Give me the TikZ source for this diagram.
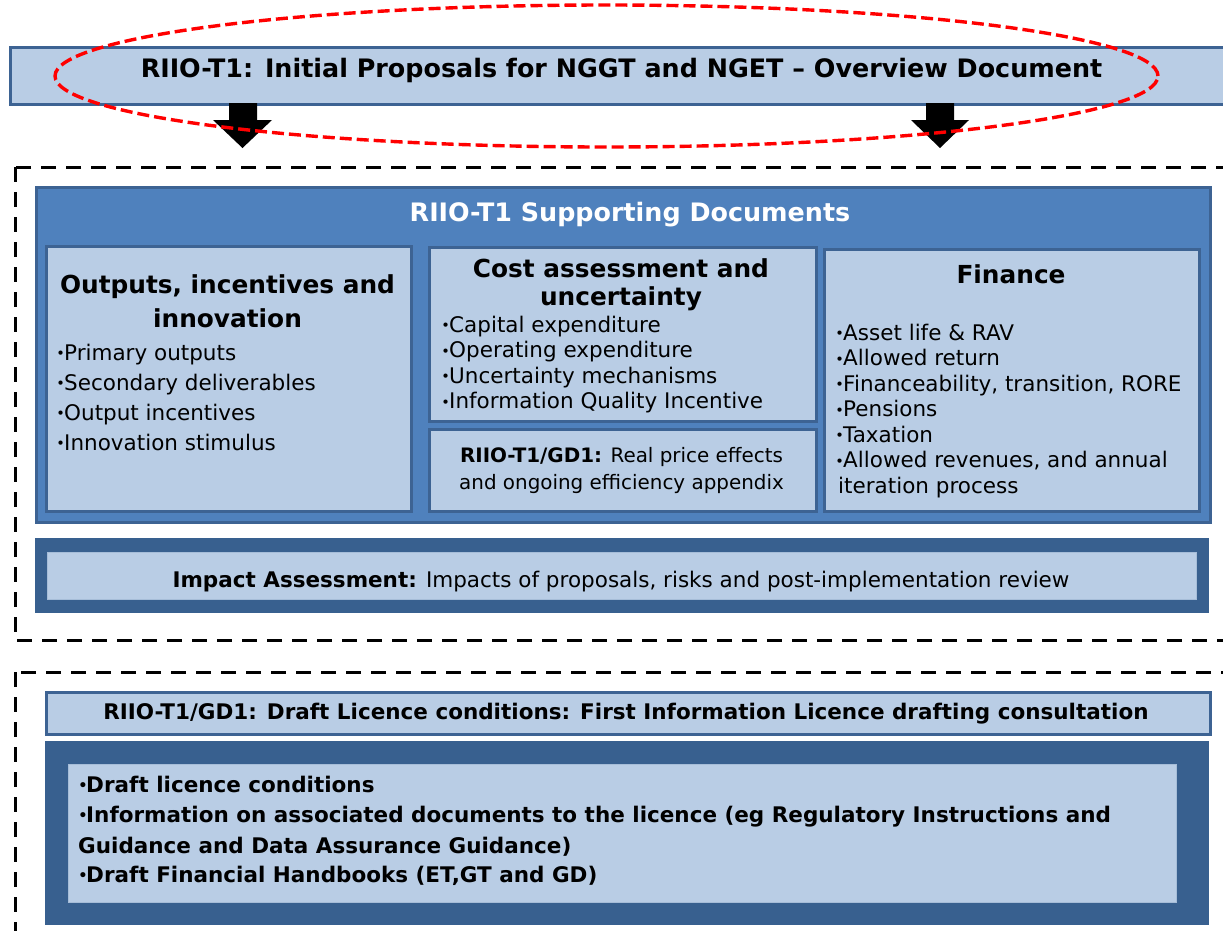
\documentclass[tikz,border=0pt]{standalone}
\usepackage{fontspec}
\setmainfont{DejaVu Sans}
\definecolor{lightfill}{HTML}{B9CDE5}
\definecolor{midfill}{HTML}{4F81BD}
\definecolor{darkfill}{HTML}{38608F}
\definecolor{edge}{HTML}{3D6393}
\newcommand\fsz[2]{\fontsize{#1}{#2}\selectfont}
% small raised bullet placed in front of list entries
\newcommand\bul{\makebox[6pt][l]{\hspace{-1.9pt}\raisebox{1.4pt}{\fsz{14.5}{14.5}•}}}
\begin{document}
\begin{tikzpicture}[x=1pt,y=-1pt,
  lightbox/.style={rectangle, draw=edge, line width=2.6pt, fill=lightfill, inner sep=0pt, anchor=north west},
  midbox/.style={rectangle, draw=edge, line width=2.6pt, fill=midfill, inner sep=0pt, anchor=north west},
  darkbox/.style={rectangle, fill=darkfill, inner sep=0pt, anchor=north west},
  plainbox/.style={rectangle, draw=lightfill!85!darkfill, line width=0.8pt, fill=lightfill, inner sep=0pt, anchor=north west},
  groupline/.style={draw=black, line width=3pt, dash pattern=on 15pt off 10pt},
  ring/.style={draw=red, line width=3.4pt, dash pattern=on 12pt off 5pt},
  blockarrow/.style={fill=black},
  txt/.style={inner sep=0pt, anchor=base, font=\fsz{21.5}{25}},
  head/.style={inner sep=0pt, anchor=base, font=\bfseries\fsz{24.8}{30}},
  bighead/.style={inner sep=0pt, anchor=base, font=\bfseries\fsz{25.4}{30}},
  item/.style={txt, anchor=base west},
  bolditem/.style={txt, anchor=base west, font=\bfseries\fsz{21.5}{25}}]
\clip (0,0) rectangle (1223,930);

% dashed group outlines
\draw[groupline] (15,167) rectangle (1250,640);
\draw[groupline] (15,672) rectangle (1250,960);

% overview document banner
\node[lightbox, line width=2.8pt, minimum width=1240pt, minimum height=57pt] (title) at (9,46) {};
\node[bighead] (titletext) at (621.5,77) {RIIO-T1: Initial Proposals for NGGT and NGET – Overview Document};

% block arrows under the banner
\fill[blockarrow] (229,103) -- (257,103) -- (257,120) -- (272,120) -- (242.5,148) -- (213,120) -- (229,120) -- cycle;
\fill[blockarrow] (926,103) -- (954,103) -- (954,120) -- (969,120) -- (940,148) -- (911,120) -- (926,120) -- cycle;

% supporting documents panel
\node[midbox, minimum width=1174pt, minimum height=335pt] (support) at (35,186) {};
\node[bighead, text=white] (supporthead) at (630,221) {RIIO-T1 Supporting Documents};

\node[lightbox, minimum width=365pt, minimum height=265pt] (outputs) at (45,245) {};
\node[lightbox, minimum width=387pt, minimum height=174pt] (cost) at (428,246) {};
\node[lightbox, minimum width=387pt, minimum height=82pt] (rpe) at (428,428) {};
\node[lightbox, minimum width=375pt, minimum height=262pt] (finance) at (823,248) {};

% outputs, incentives and innovation
\node[head] (outh1) at (227.5,293) {Outputs, incentives and};
\node[head] (outh2) at (227.5,327) {innovation};
\foreach \t [count=\i from 0] in {Primary outputs, Secondary deliverables, Output incentives, Innovation stimulus}
  \node[item] (outi\i) at (58,{360+30*\i}) {\bul\t};

% cost assessment and uncertainty
\node[head] (costh1) at (621,277) {Cost assessment and};
\node[head] (costh2) at (621,305) {uncertainty};
\foreach \t [count=\i from 0] in {Capital expenditure, Operating expenditure, Uncertainty mechanisms, Information Quality Incentive}
  \node[item] (costi\i) at (443,{332+25.6*\i}) {\bul\t};

% real price effects appendix
\node[txt, font=\fsz{19.9}{24}] (rpe1) at (621.5,462) {\textbf{RIIO-T1/GD1:} Real price effects};
\node[txt, font=\fsz{19.9}{24}] (rpe2) at (621.5,489) {and ongoing efficiency appendix};

% finance
\node[head] (finh) at (1011,283) {Finance};
\foreach \t [count=\i from 0] in {Asset life \& RAV, Allowed return, {Financeability, transition, RORE}, Pensions, Taxation, {Allowed revenues, and annual}}
  \node[item] (fini\i) at (837,{340+25.5*\i}) {\bul\t};
\node[item] (fincont) at (838,493) {iteration process};

% impact assessment
\node[darkbox, minimum width=1174pt, minimum height=75pt] (impact) at (35,538) {};
\node[plainbox, minimum width=1149pt, minimum height=47pt] (impactin) at (47,552) {};
\node[txt] (impacttext) at (621,587) {\textbf{Impact Assessment:} Impacts of proposals, risks and post-implementation review};

% draft licence consultation
\node[lightbox, minimum width=1164pt, minimum height=42pt] (licence) at (45,691) {};
\node[txt, font=\bfseries\fsz{21.5}{25}] (licencetext) at (626,719) {RIIO-T1/GD1: Draft Licence conditions: First Information Licence drafting consultation};
\node[darkbox, minimum width=1164pt, minimum height=184pt] (licbody) at (45,741) {};
\node[plainbox, minimum width=1108pt, minimum height=138pt] (licin) at (68,764) {};
\node[bolditem] (lic1) at (80,792) {\bul Draft licence conditions};
\node[bolditem] (lic2) at (80,822) {\bul Information on associated documents to the licence (eg Regulatory Instructions and};
\node[bolditem] (lic3) at (78,853) {Guidance and Data Assurance Guidance)};
\node[bolditem] (lic4) at (80,882) {\bul Draft Financial Handbooks (ET,GT and GD)};

% red highlight ring around the banner
\draw[ring] (606.5,76) ellipse [x radius=551.5pt, y radius=71pt];
\end{tikzpicture}
\end{document}
